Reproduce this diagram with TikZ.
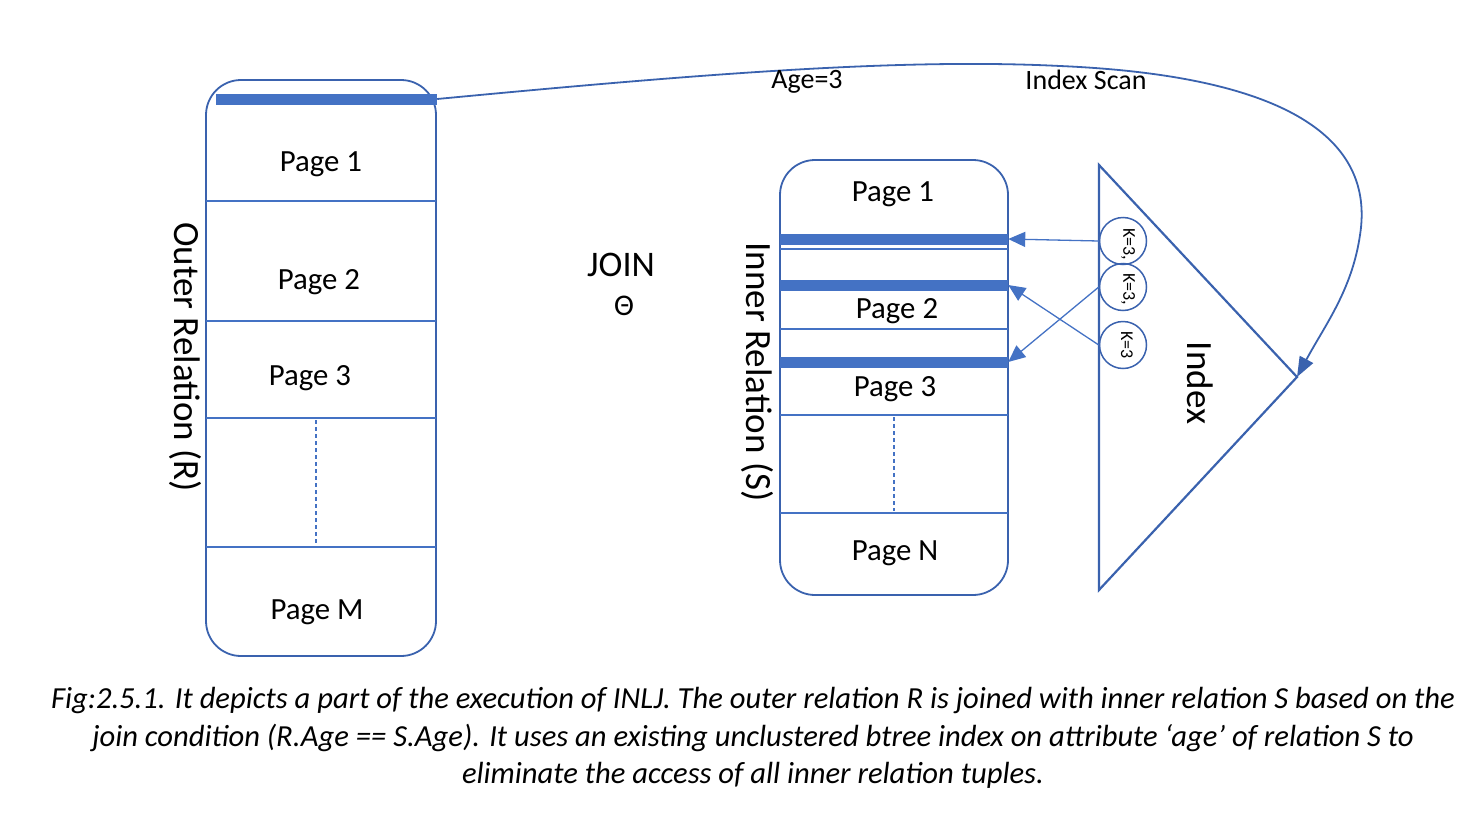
\documentclass[tikz,border=0pt]{standalone}
\usepackage{fontspec}
\setmainfont{Carlito}
\usetikzlibrary{arrows.meta}
\definecolor{lineblue}{HTML}{3A62AE}
\definecolor{barblue}{HTML}{4472C4}
\tikzset{
  box/.style={draw=lineblue, line width=1.8pt, rounded corners=35pt},
  sep/.style={draw=barblue, line width=1.2pt},
  dsep/.style={draw=barblue, line width=1.2pt, dash pattern=on 4pt off 3pt},
  bar/.style={fill=barblue, draw=none, inner sep=0pt, minimum height=11pt},
  pg/.style={font=\fontsize{30.8}{33}\selectfont, inner sep=0pt},
  lbl/.style={font=\fontsize{28}{30}\selectfont, inner sep=0pt},
  big/.style={font=\fontsize{37}{40}\selectfont, inner sep=0pt},
  keyc/.style={draw=lineblue, line width=1.5pt, circle, minimum size=47pt, inner sep=0pt},
  ktxt/.style={font=\fontsize{18}{19}\selectfont, rotate=-90, inner sep=0pt},
  arr/.style={draw=barblue, line width=1.3pt, -{Triangle[length=17pt,width=15pt]}},
  curvearr/.style={draw=lineblue, line width=1.8pt, -{Triangle[length=20pt,width=15pt]}},
}
\begin{document}
\begin{tikzpicture}[x=1pt,y=-1pt]
\useasboundingbox (0,0) rectangle (1482,816);
% Outer relation
\draw[box] (206,80) rectangle (436,656);
\node[bar, minimum width=221pt] (ob) at (326.5,99) {};
\draw[sep] (206,201) -- (436,201);
\draw[sep] (206,321) -- (436,321);
\draw[sep] (206,418) -- (436,418);
\draw[sep] (206,547) -- (436,547);
\draw[dsep] (316,420) -- (316,545);
\node[pg] (op1) at (321,164) {Page 1};
\node[pg] (op2) at (319,282) {Page 2};
\node[pg] (op3) at (310,378) {Page 3};
\node[pg] (opm) at (317,612) {Page M};
\node[big, rotate=-90] (outer) at (185,357) {Outer Relation (R)};
% Join
\node[font=\fontsize{36}{40}\selectfont, inner sep=0pt] (join) at (621,265) {JOIN};
\node[font=\fontsize{30}{32}\selectfont, inner sep=0pt] (theta) at (624,306) {Θ};
% Inner relation
\draw[box] (780,160) rectangle (1008,595);
\node[bar, minimum width=228pt] (ib1) at (894,239) {};
\node[bar, minimum width=228pt] (ib2) at (894,285) {};
\node[bar, minimum width=228pt] (ib3) at (894,362) {};
\draw[sep] (780,249) -- (1008,249);
\draw[sep] (780,329) -- (1008,329);
\draw[sep] (780,415) -- (1008,415);
\draw[sep] (780,513) -- (1008,513);
\draw[dsep] (894,417) -- (894,511);
\node[pg] (ip1) at (893,194) {Page 1};
\node[pg] (ip2) at (897,311) {Page 2};
\node[pg] (ip3) at (895,389) {Page 3};
\node[pg] (ipn) at (895,553) {Page N};
\node[big, rotate=-90] (inner) at (757,372) {Inner Relation (S)};
% Index triangle
\draw[draw=lineblue, line width=2.2pt, line join=miter] (1099,165) -- (1297,377) -- (1099,590) -- cycle;
\coordinate (tip) at (1297,377);
\node[keyc] (c1) at (1123,241) {};
\node[keyc] (c2) at (1123,287) {};
\node[keyc] (c3) at (1123,345) {};
\node[ktxt, anchor=west] (k1) at (1128,228) {K=3,};
\node[ktxt, anchor=west] (k2) at (1128,273) {K=3,};
\node[ktxt] (k3) at (1127,345) {K=3};
\node[big, rotate=-90] (index) at (1200,383) {Index};
% pointer arrows
\draw[arr] (c1.west) -- (ib1.east);
\draw[arr] (c2.west) -- (ib3.east);
\draw[arr] (c3.west) -- (ib2.east);
% Index scan curve
\draw[curvearr] (ob.east) .. controls (700,74) and (900,58) .. (1060,66)
  .. controls (1290,76) and (1375,140) .. (1360,235)
  .. controls (1352,290) and (1325,325) .. (tip);
\node[lbl] (age) at (807,82) {Age=3};
\node[lbl] (scan) at (1086,80) {Index Scan};
% caption
\node[font=\fontsize{30.6}{37.5}\selectfont\itshape, align=center, inner sep=0pt] (cap) at (753,738)
  {Fig:2.5.1. It depicts a part of the execution of INLJ. The outer relation R is joined with inner relation S based on the\\
   join condition (R.Age == S.Age). It uses an existing unclustered btree index on attribute ‘age’ of relation S to\\
   eliminate the access of all inner relation tuples.};
\end{tikzpicture}
\end{document}
